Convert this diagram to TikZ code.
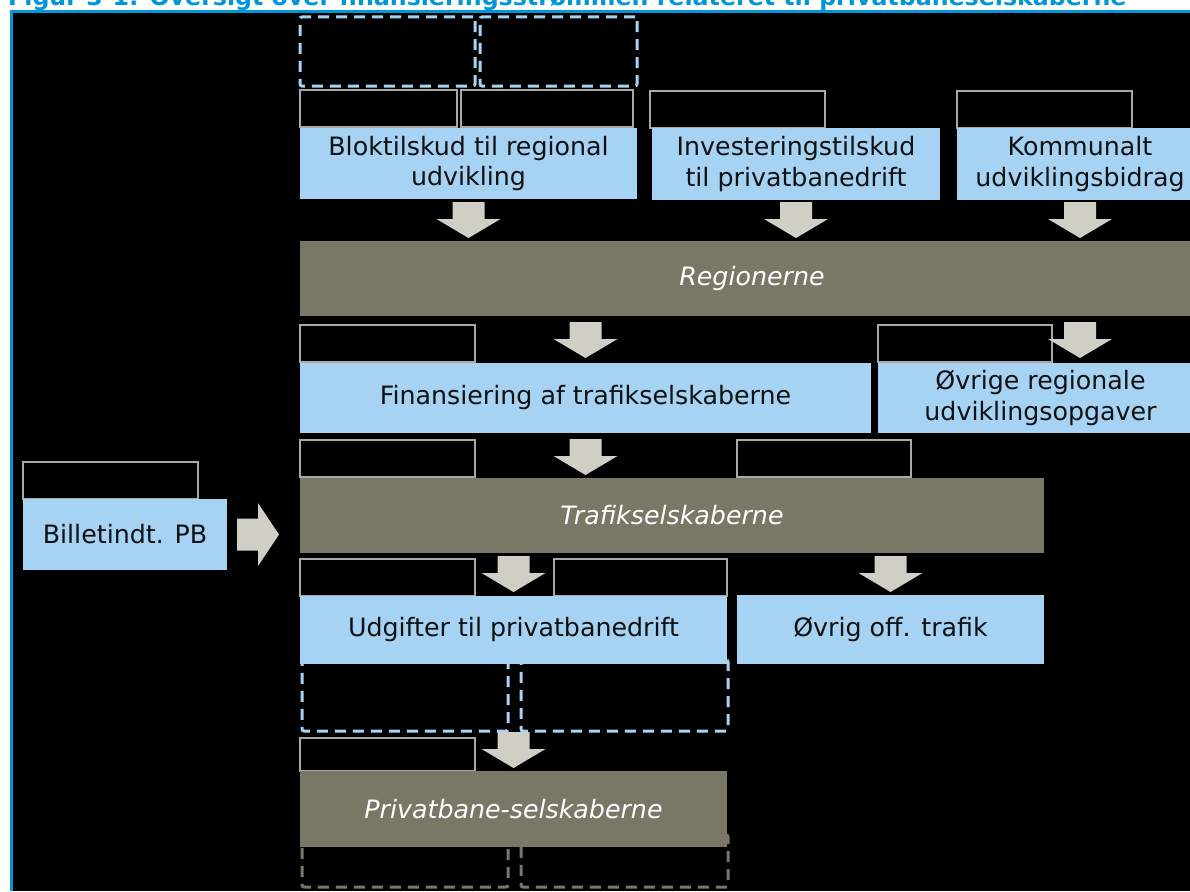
\documentclass[tikz,border=0pt]{standalone}
\usepackage{fontspec}
\setmainfont{DejaVu Sans}
\usepackage{tikz}
\usetikzlibrary{positioning}

\definecolor{pbblue}{HTML}{A6D3F3}
\definecolor{pbolive}{HTML}{797866}
\definecolor{pbarrow}{HTML}{CFCFC6}
\definecolor{pbtag}{HTML}{A8A8A8}
\definecolor{pbframe}{HTML}{0096D8}
\definecolor{pbtext}{HTML}{111111}

\begin{document}
\begin{tikzpicture}[
  x=1pt, y=-1pt,
  base/.style={inner sep=0pt, outer sep=0pt, anchor=north west, align=center},
  size/.style 2 args={minimum width=#1pt, minimum height=#2pt},
  bluebox/.style={base, fill=pbblue, text=pbtext,
                  font=\fontsize{25.3}{30.5}\selectfont},
  bar/.style={base, fill=pbolive, text=white,
              font=\fontsize{25.3}{30}\selectfont\itshape},
  tag/.style={base, draw=pbtag, line width=2.3pt, fill=black},
  dashbox/.style={base, draw=pbblue, line width=3pt,
                  dash pattern=on 11pt off 7pt, rounded corners=2pt},
  olivebox/.style={dashbox, draw=pbolive},
  downarr/.pic={\fill[pbarrow] (0,0) -- (32,-19) -- (16,-19) -- (16,-36)
                -- (-16,-36) -- (-16,-19) -- (-32,-19) -- cycle;},
  rightarr/.pic={\fill[pbarrow] (0,0) -- (-21,-31.5) -- (-21,-16) -- (-42,-16)
                -- (-42,16) -- (-21,16) -- (-21,31.5) -- cycle;},
]
\useasboundingbox (0,0) rectangle (1190,891);
\fill[white] (0,0) rectangle (1190,891);
\fill[pbframe] (10,10.5) rectangle (1190,891);
\fill[black] (13,13.5) rectangle (1190,891);

% caption, cut off by the page edge
\node[anchor=base west, inner sep=0pt, text=pbframe,
      font=\fontsize{23.7}{24}\selectfont\bfseries] (caption) at (8,6)
     {Figur 3-1: Oversigt over finansieringsstrømmen relateret til privatbaneselskaberne};

% dashed placeholders
\node[dashbox, size={175}{69}] (dashA) at (300,17) {};
\node[dashbox, size={157}{69}] (dashB) at (480,17) {};
\node[dashbox, size={206}{71}] (dashC) at (302,660) {};
\node[dashbox, size={207}{71}] (dashD) at (521,660) {};
\node[olivebox, size={206}{52}] (dashE) at (302,835) {};
\node[olivebox, size={207}{52}] (dashF) at (521,835) {};

% empty label boxes
\node[tag, size={157}{37}] (tagA) at (300,90) {};
\node[tag, size={172}{37}] (tagB) at (461,90) {};
\node[tag, size={175}{37}] (tagC) at (650,91) {};
\node[tag, size={175}{37}] (tagD) at (957,91) {};
\node[tag, size={175}{37}] (tagE) at (300,325) {};
\node[tag, size={174}{37}] (tagF) at (878,325) {};
\node[tag, size={175}{37}] (tagG) at (300,440) {};
\node[tag, size={174}{37}] (tagH) at (737,440) {};
\node[tag, size={175}{37}] (tagI) at (23,462) {};
\node[tag, size={175}{37}] (tagJ) at (300,559) {};
\node[tag, size={173}{37}] (tagK) at (554,559) {};
\node[tag, size={175}{33}] (tagL) at (300,738) {};

% flows in
\node[bluebox, size={337}{71}] (blok) at (300,128)
     {Bloktilskud til regional\\udvikling};
\node[bluebox, size={288}{72}] (invest) at (652,128)
     {Investeringstilskud\\til privatbanedrift};
\node[bluebox, size={246}{72}] (kommunal) at (957,128)
     {Kommunalt\\udviklingsbidrag};

\node[bar, size={904}{75}] (regioner) at (300,241) {Regionerne};

\node[bluebox, size={571}{70}] (finans) at (300,363)
     {Finansiering af trafikselskaberne};
\node[bluebox, size={325}{70}] (oevrige) at (878,363)
     {Øvrige regionale\\udviklingsopgaver};

\node[bar, size={744}{75}] (trafik) at (300,478) {Trafikselskaberne};
\node[bluebox, size={204}{71}] (billet) at (23,499) {Billetindt. PB};

\node[bluebox, size={427}{68}] (udgift) at (300,596)
     {Udgifter til privatbanedrift};
\node[bluebox, size={307}{69}] (oevtrafik) at (737,595)
     {Øvrig off. trafik};

\node[bar, size={427}{76}] (privat) at (300,771) {Privatbane-selskaberne};

% block arrows
\path (blok.south |- regioner.north) ++(0,-3) pic {downarr};
\path (invest.south |- regioner.north) ++(0,-3) pic {downarr};
\path (kommunal.south |- regioner.north) ++(0,-3) pic {downarr};
\path (finans.north) ++(0,-5) pic {downarr};
\path (kommunal.south |- oevrige.north) ++(0,-5) pic {downarr};
\path (finans.south |- trafik.north) ++(0,-3) pic {downarr};
\path (udgift.north) ++(0,-4) pic {downarr};
\path (oevtrafik.north) ++(0,-3) pic {downarr};
\path (privat.north) ++(0,-3) pic {downarr};
\path (billet.east -| trafik.west) ++(-21,0) pic {rightarr};
\end{tikzpicture}
\end{document}
